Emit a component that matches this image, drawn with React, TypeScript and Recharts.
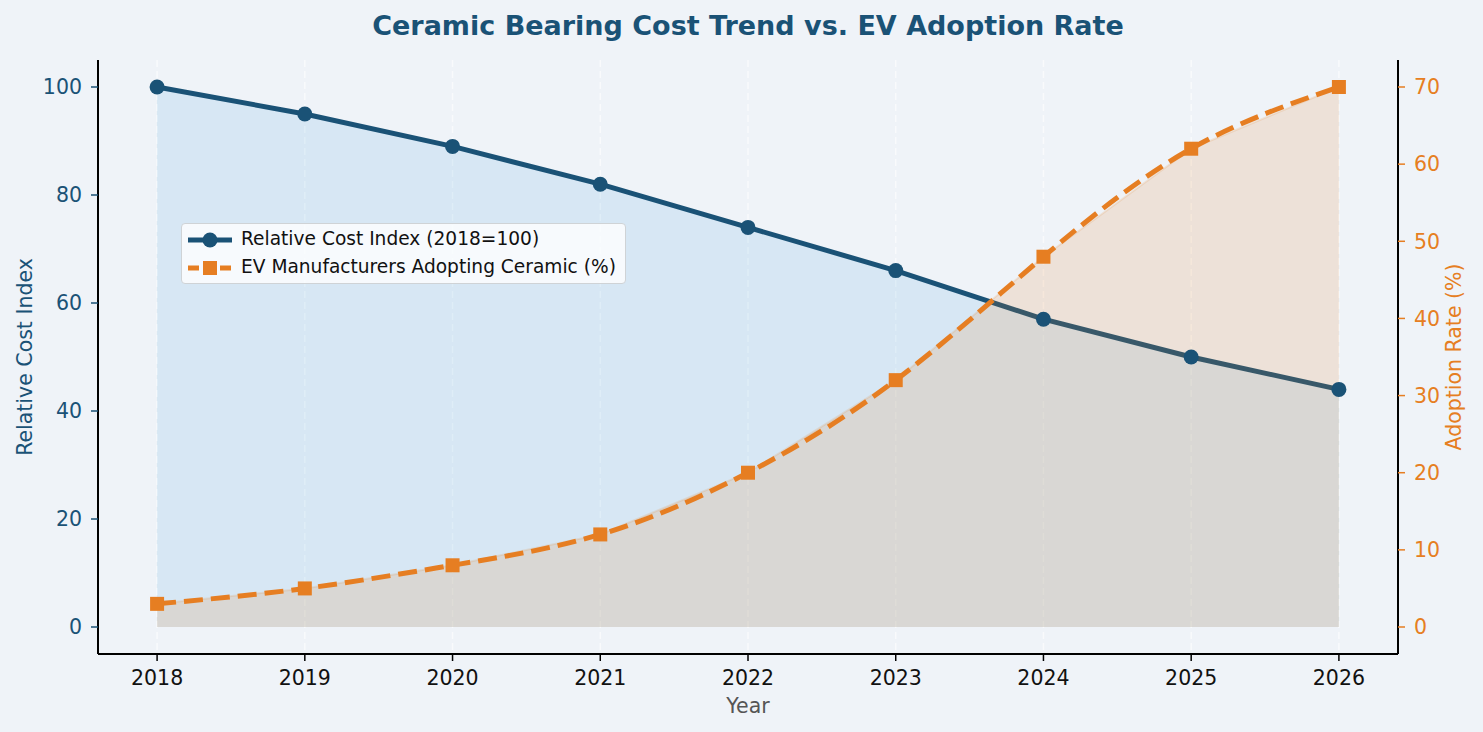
import React from 'react';
import {
  ComposedChart,
  Line,
  Area,
  XAxis,
  YAxis,
  CartesianGrid,
  Label,
} from 'recharts';

const years = [2018, 2019, 2020, 2021, 2022, 2023, 2024, 2025, 2026];
const costIndex = [100, 95, 89, 82, 74, 66, 57, 50, 44];
const adoptionRate = [3, 5, 8, 12, 20, 32, 48, 62, 70];
const costTicks = [0, 20, 40, 60, 80, 100];
const adoptionTicks = [0, 10, 20, 30, 40, 50, 60, 70];

const rows = years.map((year, i) => ({
  year,
  cost: costIndex[i],
  adoption: adoptionRate[i],
}));

const BLUE = '#1a5276';
const ORANGE = '#e67e22';
const BG = '#eff3f8';
const FONT = '"DejaVu Sans", sans-serif';

const legendItems = [
  { name: 'Relative Cost Index (2018=100)', color: BLUE, dashed: false },
  { name: 'EV Manufacturers Adopting Ceramic (%)', color: ORANGE, dashed: true },
];

const SquareDot = (props: any) => {
  const { cx, cy, index } = props;
  if (cx == null || cy == null) return null;
  return <rect key={`sq-${index}`} x={cx - 7} y={cy - 7} width={14} height={14} fill={ORANGE} />;
};

// legend box floats over the upper-left part of the plot
const LegendBox = () => (
  <div
    style={{
      position: 'absolute',
      left: 181,
      top: 223,
      width: 443,
      height: 59,
      background: 'rgba(255,255,255,0.8)',
      border: '1px solid #cfd3d6',
      borderRadius: 4,
      fontFamily: FONT,
      fontSize: 18.6,
      color: '#111',
    }}
  >
    {legendItems.map((item, i) => (
      <div key={item.name} style={{ position: 'relative', height: 28, marginTop: i === 0 ? 2 : 0 }}>
        <svg width={50} height={28} style={{ position: 'absolute', left: 4, top: 0 }}>
          <line
            x1={2}
            x2={46}
            y1={14}
            y2={14}
            stroke={item.color}
            strokeWidth={5}
            strokeDasharray={item.dashed ? '11 5' : undefined}
          />
          {item.dashed ? (
            <rect x={17} y={7} width={14} height={14} fill={item.color} />
          ) : (
            <circle cx={24} cy={14} r={7.5} fill={item.color} />
          )}
        </svg>
        <span style={{ position: 'absolute', left: 59, top: 2, whiteSpace: 'nowrap' }}>{item.name}</span>
      </div>
    ))}
  </div>
);

export default function App() {
  return (
    <div style={{ position: 'relative', width: 1483, height: 732, background: BG }}>
      <style>{'body{margin:0}'}</style>
      <ComposedChart
        width={1483}
        height={732}
        data={rows}
        margin={{ top: 60, right: 0, bottom: 0, left: 0 }}
        style={{ fontFamily: FONT }}
      >
        <CartesianGrid
          horizontal={false}
          stroke="#ffffff"
          strokeOpacity={0.6}
          strokeDasharray="7 4"
          strokeWidth={1.5}
        />
        <XAxis
          dataKey="year"
          type="number"
          domain={[2017.6, 2026.4]}
          ticks={years}
          allowDataOverflow
          height={78}
          axisLine={{ stroke: '#000', strokeWidth: 2 }}
          tickLine={{ stroke: '#000', strokeWidth: 1.5 }}
          tickSize={7}
          tickMargin={9}
          tick={{ fill: '#111', fontSize: 20.5, fontFamily: FONT }}
        >
          <Label
            content={(p: any) => {
              const vb = p.viewBox;
              return (
                <text
                  x={vb.x + vb.width / 2}
                  y={vb.y + 59}
                  textAnchor="middle"
                  fill="#555"
                  fontSize={20.5}
                  fontFamily={FONT}
                >
                  Year
                </text>
              );
            }}
          />
        </XAxis>
        <YAxis
          yAxisId="cost"
          orientation="left"
          width={98}
          domain={[-5, 105]}
          ticks={costTicks}
          allowDataOverflow
          axisLine={{ stroke: '#000', strokeWidth: 2 }}
          tickLine={{ stroke: BLUE, strokeWidth: 1.5 }}
          tickSize={7}
          tickMargin={9}
          tick={{ fill: BLUE, fontSize: 20.5, fontFamily: FONT }}
        >
          <Label
            content={(p: any) => {
              const vb = p.viewBox;
              const x = vb.x + 32;
              const y = vb.y + vb.height / 2;
              return (
                <text
                  x={x}
                  y={y}
                  transform={`rotate(-90 ${x} ${y})`}
                  textAnchor="middle"
                  fill={BLUE}
                  fontSize={20.5}
                  fontFamily={FONT}
                >
                  Relative Cost Index
                </text>
              );
            }}
          />
        </YAxis>
        <YAxis
          yAxisId="adoption"
          orientation="right"
          width={85}
          domain={[-3.5, 73.5]}
          ticks={adoptionTicks}
          allowDataOverflow
          axisLine={{ stroke: '#000', strokeWidth: 2 }}
          tickLine={{ stroke: ORANGE, strokeWidth: 1.5 }}
          tickSize={7}
          tickMargin={9}
          tick={{ fill: ORANGE, fontSize: 20.5, fontFamily: FONT }}
        >
          <Label
            content={(p: any) => {
              const vb = p.viewBox;
              const x = vb.x + 63;
              const y = vb.y + vb.height / 2;
              return (
                <text
                  x={x}
                  y={y}
                  transform={`rotate(-90 ${x} ${y})`}
                  textAnchor="middle"
                  fill={ORANGE}
                  fontSize={20.5}
                  fontFamily={FONT}
                >
                  Adoption Rate (%)
                </text>
              );
            }}
          />
        </YAxis>

        {/* cost index: shaded area under the line, then the line itself */}
        <Area
          yAxisId="cost"
          dataKey="cost"
          type="linear"
          baseValue={0}
          fill="#3498db"
          fillOpacity={0.13}
          stroke="none"
          isAnimationActive={false}
        />
        <Line
          yAxisId="cost"
          dataKey="cost"
          type="linear"
          stroke={BLUE}
          strokeWidth={5}
          dot={{ r: 7.5, fill: BLUE, stroke: 'none' }}
          activeDot={false}
          isAnimationActive={false}
        />

        {/* adoption rate sits on the twin axis, painted over the cost series */}
        <Area
          yAxisId="adoption"
          dataKey="adoption"
          type="linear"
          baseValue={0}
          fill={ORANGE}
          fillOpacity={0.15}
          stroke={ORANGE}
          strokeOpacity={0.15}
          strokeWidth={2}
          zIndex={450}
          isAnimationActive={false}
        />
        <Line
          yAxisId="adoption"
          dataKey="adoption"
          type="natural"
          stroke={ORANGE}
          strokeWidth={5}
          strokeDasharray="19 8"
          dot={<SquareDot />}
          activeDot={false}
          zIndex={500}
          isAnimationActive={false}
        />
      </ComposedChart>
      <div
        style={{
          position: 'absolute',
          top: 12,
          left: 0,
          width: 1496,
          textAlign: 'center',
          fontFamily: FONT,
          fontWeight: 'bold',
          fontSize: 27,
          lineHeight: '27px',
          color: BLUE,
        }}
      >
        Ceramic Bearing Cost Trend vs. EV Adoption Rate
      </div>
      <LegendBox />
    </div>
  );
}
